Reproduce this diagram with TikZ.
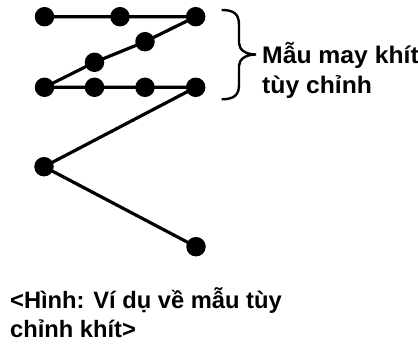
\documentclass[tikz,border=0pt]{standalone}
\usepackage{fontspec}
\setmainfont{Liberation Sans}
\begin{document}
\begin{tikzpicture}[x=1pt,y=-1pt,
  dot/.style={circle,fill=black,draw=none,inner sep=0pt,minimum size=19.5pt},
  seam/.style={line width=3.2pt},
  lbl/.style={anchor=base west,inner sep=0pt,font=\fontsize{23.7}{28}\selectfont\bfseries},
  widelbl/.style={anchor=base west,inner sep=0pt,font=\fontsize{24}{28}\selectfont\bfseries,xscale=1.03}]
\useasboundingbox (0,0) rectangle (418,347);
% stitches
\node[dot] (a1) at (44.5,16.7) {};
\node[dot] (a2) at (120,16.7) {};
\node[dot] (a3) at (195.7,16.7) {};
\node[dot] (b1) at (145,41.7) {};
\node[dot] (b2) at (94.5,62.3) {};
\node[dot] (c1) at (44.5,87.3) {};
\node[dot] (c2) at (94.5,87.3) {};
\node[dot] (c3) at (145,87.3) {};
\node[dot] (c4) at (195.7,87.3) {};
\node[dot] (d1) at (44,166.7) {};
\node[dot] (d2) at (196,246.7) {};
\draw[seam] (a1.center) -- (a2.center) -- (a3.center) -- (b1.center) -- (b2.center) -- (c1.center) -- (c2.center) -- (c3.center) -- (c4.center) -- (d1.center) -- (d2.center);
% brace
\coordinate (bt) at (221.7,10);
\coordinate (bb) at (221.7,99.3);
\coordinate (tip) at (256,54.5);
\draw[line width=2.4pt]
  (bt) .. controls (234,10) and (239,14) .. (239,25) -- (239,43)
  .. controls (239,50) and (246,54.5) .. (tip)
  .. controls (246,54.5) and (239,59) .. (239,66) -- (239,85)
  .. controls (239,95) and (234,99.3) .. (bb);
\node[widelbl] (t1) at (262,64) {Mẫu may khít};
\node[widelbl] (t2) at (262,93.5) {tùy chỉnh};
\node[lbl] (cap1) at (10,309) {<Hình: Ví dụ về mẫu tùy};
\node[lbl] (cap2) at (10,338) {chỉnh khít>};
\end{tikzpicture}
\end{document}
